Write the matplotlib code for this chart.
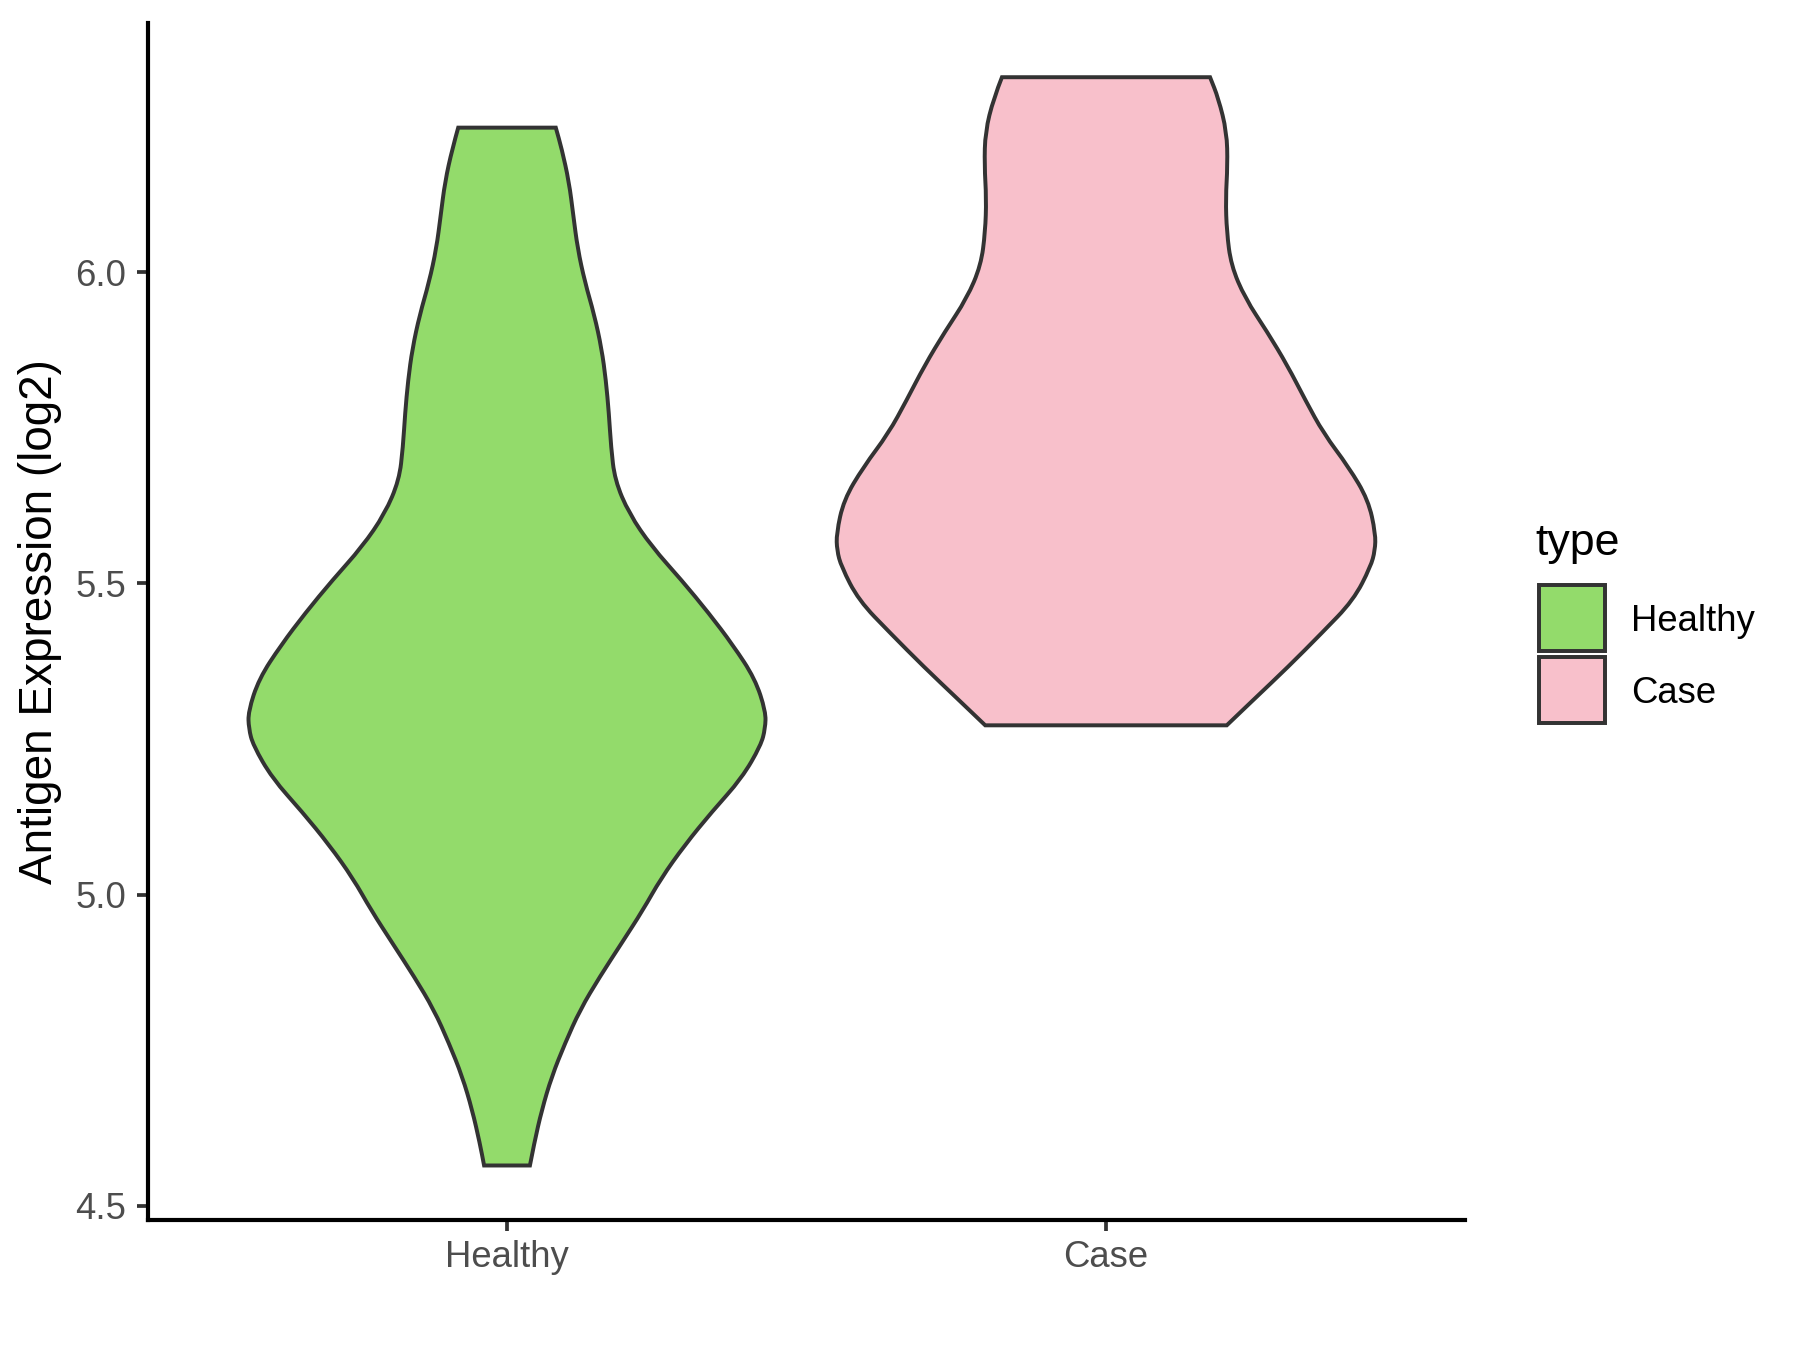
import matplotlib
matplotlib.use("Agg")
import matplotlib.pyplot as plt
from matplotlib.patches import Rectangle, PathPatch
from matplotlib.path import Path
from matplotlib.ticker import FormatStrFormatter
import numpy as np

plt.rcParams["font.family"] = ["Liberation Sans", "DejaVu Sans"]

GROUPS = ["Healthy", "Case"]
COLORS = {"Healthy": "#93DB6B", "Case": "#F8C0CB"}
OUTLINE = "#333333"

# expression (log2) along each violin and the scaled density there (1 = widest violin)
healthy_expr = [4.565, 4.601, 4.654, 4.708, 4.761, 4.815, 4.868, 4.922, 4.975, 5.026,
                5.080, 5.133, 5.187, 5.240, 5.267, 5.294, 5.347, 5.401, 5.452, 5.505,
                5.559, 5.612, 5.666, 5.719, 5.773, 5.826, 5.877, 5.931, 5.984, 6.038,
                6.091, 6.145, 6.198, 6.232]
healthy_density = [0.085, 0.101, 0.129, 0.166, 0.215, 0.271, 0.344, 0.425, 0.504, 0.571,
                   0.660, 0.760, 0.871, 0.942, 0.958, 0.960, 0.920, 0.838, 0.749, 0.648,
                   0.537, 0.453, 0.400, 0.386, 0.378, 0.367, 0.351, 0.324, 0.289, 0.262,
                   0.246, 0.230, 0.203, 0.181]

case_expr = [5.272, 5.313, 5.366, 5.420, 5.473, 5.527, 5.553, 5.580, 5.634, 5.687,
             5.741, 5.794, 5.850, 5.904, 5.958, 6.011, 6.065, 6.118, 6.172, 6.225,
             6.279, 6.313]
case_density = [0.448, 0.547, 0.676, 0.800, 0.918, 0.982, 0.998, 1.000, 0.973, 0.900,
                0.807, 0.740, 0.673, 0.598, 0.516, 0.464, 0.448, 0.444, 0.451, 0.448,
                0.417, 0.386]

Y_TICKS = [4.5, 5.0, 5.5, 6.0]
VIOLIN_WIDTH = 0.9

W, H = 1800, 1350


def fig_xy(x, y):
    # pixel position (from top-left) -> figure fraction
    return x / W, 1 - y / H


def smooth_side(pts):
    # quadratic-bezier chain through the midpoints, so the edge has no kinks
    verts, codes = [], []
    for i in range(1, len(pts) - 1):
        mid = (pts[i] + pts[i + 1]) / 2
        verts += [pts[i], mid]
        codes += [Path.CURVE3, Path.CURVE3]
    verts.append(pts[-1])
    codes.append(Path.LINETO)
    return verts, codes


def violin_path(pos, ys, ds):
    ys = np.asarray(ys)
    half = np.asarray(ds) * VIOLIN_WIDTH / 2
    right = np.column_stack([pos + half, ys])
    left = np.column_stack([pos - half, ys])[::-1]
    verts, codes = [right[0]], [Path.MOVETO]
    v, c = smooth_side(right)
    verts += v
    codes += c
    verts.append(left[0])
    codes.append(Path.LINETO)
    v, c = smooth_side(left)
    verts += v
    codes += c
    verts.append(right[0])
    codes.append(Path.CLOSEPOLY)
    return Path(verts, codes)


def main():
    fig = plt.figure(figsize=(12, 9), dpi=150)
    ax = fig.add_axes([147.6 / W, 1 - 1219.9 / H, 1317.8 / W, 1197.1 / H])

    series = [(healthy_expr, healthy_density), (case_expr, case_density)]
    for i, (name, (ys, ds)) in enumerate(zip(GROUPS, series)):
        patch = PathPatch(violin_path(i + 1, ys, ds), facecolor=COLORS[name],
                          edgecolor=OUTLINE, linewidth=1.9, joinstyle="miter")
        ax.add_patch(patch)

    all_y = healthy_expr + case_expr
    lo, hi = min(all_y), max(all_y)
    pad = 0.05 * (hi - lo)
    ax.set_ylim(lo - pad, hi + pad)
    ax.set_xlim(0.4, 2.6)
    ax.set_xticks([1, 2], GROUPS)
    ax.set_yticks(Y_TICKS)
    ax.yaxis.set_major_formatter(FormatStrFormatter("%.1f"))

    for side in ("top", "right"):
        ax.spines[side].set_visible(False)
    for side in ("left", "bottom"):
        ax.spines[side].set_linewidth(2.0)
        ax.spines[side].set_color("black")
        ax.spines[side].set_capstyle("projecting")

    ax.tick_params(length=5.2, width=1.8, color=OUTLINE, labelsize=17.5,
                   labelcolor="#4D4D4D")
    ax.tick_params(axis="x", pad=4.5)
    ax.tick_params(axis="y", pad=5)

    ax.set_ylabel("Antigen Expression (log2)", fontsize=22, color="black")
    ax.yaxis.set_label_coords(-0.065, 0.5)

    # legend, drawn by hand to sit like the ggplot guide
    fig.text(*fig_xy(1535, 555), "type", fontsize=21.5, va="baseline", ha="left")
    key_tops = [585, 657]
    baselines = [630.7, 702.7]
    for name, top, base in zip(GROUPS, key_tops, baselines):
        x0, y0 = fig_xy(1538.5, top + 65.5)
        fig.add_artist(Rectangle((x0, y0), 66 / W, 65.5 / H, transform=fig.transFigure,
                                 facecolor=COLORS[name], edgecolor=OUTLINE, linewidth=1.9))
        fig.text(*fig_xy(1631, base), name, fontsize=17.5, va="baseline", ha="left")

    fig.savefig("out.png", dpi=150, facecolor="white")


if __name__ == "__main__":
    main()
